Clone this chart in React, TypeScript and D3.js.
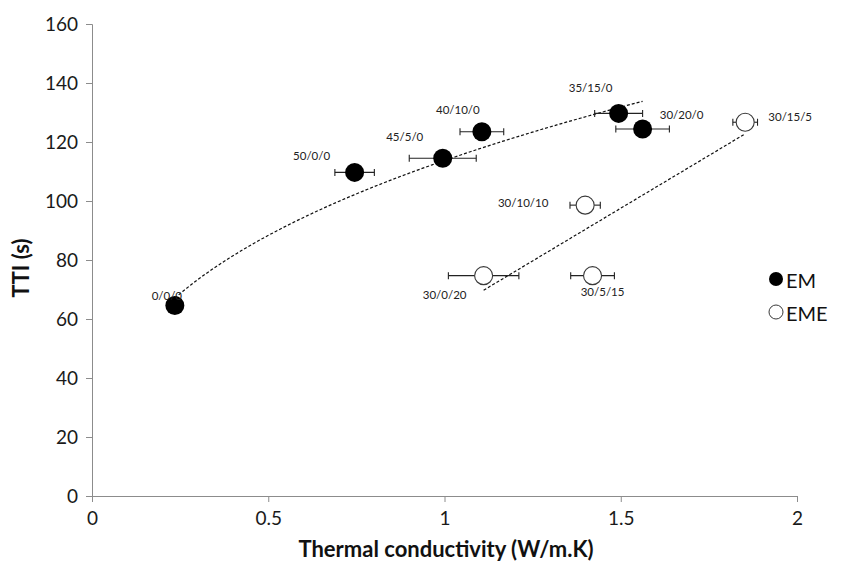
import React, { useEffect, useRef } from "react";
import * as d3 from "d3";

// ---- data ----
const emLabels = ["0/0/0", "50/0/0", "45/5/0", "40/10/0", "35/15/0", "30/20/0"];
const emX = [0.235, 0.745, 0.995, 1.106, 1.494, 1.562];
const emY = [64.6, 109.7, 114.5, 123.5, 129.7, 124.4];
const emXErr = [0, 0.056, 0.095, 0.062, 0.068, 0.076];

const emeLabels = ["30/10/10", "30/0/20", "30/5/15", "30/15/5"];
const emeX = [1.399, 1.111, 1.42, 1.853];
const emeY = [98.6, 74.7, 74.7, 126.7];
const emeXErr = [0.043, 0.1, 0.062, 0.035];

const xTicks = [0, 0.5, 1, 1.5, 2];
const yTicks = [0, 20, 40, 60, 80, 100, 120, 140, 160];

// label placement offsets (px) relative to marker centre
const emLabelOffsets: [number, number][] = [
  [-8, -10], [-43, -17], [-38, -22], [-24, -22], [-28, -26], [39, -15],
];
const emeLabelOffsets: [number, number][] = [
  [-62, -3], [-39, 19], [10, 16], [45, -6],
];

const W = 859;
const H = 564;
const FONT = "Lato, 'Open Sans', sans-serif";

function powerFit(xs: number[], ys: number[]) {
  const lx = xs.map(Math.log);
  const ly = ys.map(Math.log);
  const mx = d3.mean(lx)!;
  const my = d3.mean(ly)!;
  let sxy = 0, sxx = 0;
  lx.forEach((v, i) => { sxy += (v - mx) * (ly[i] - my); sxx += (v - mx) ** 2; });
  const b = sxy / sxx;
  const a = Math.exp(my - b * mx);
  return (x: number) => a * Math.pow(x, b);
}

function linearFit(xs: number[], ys: number[]) {
  const mx = d3.mean(xs)!;
  const my = d3.mean(ys)!;
  let sxy = 0, sxx = 0;
  xs.forEach((v, i) => { sxy += (v - mx) * (ys[i] - my); sxx += (v - mx) ** 2; });
  const m = sxy / sxx;
  const c = my - m * mx;
  return (x: number) => m * x + c;
}

export default function App() {
  const gx = useRef<SVGGElement>(null);
  const gy = useRef<SVGGElement>(null);

  const x = d3.scaleLinear().domain([0, 2]).range([92, 797]);
  const y = d3.scaleLinear().domain([0, 160]).range([496, 24]);

  useEffect(() => {
    const ax = d3.axisBottom(x).tickValues(xTicks).tickSize(6).tickPadding(10)
      .tickFormat((d) => d3.format("")(d as number));
    const ay = d3.axisLeft(y).tickValues(yTicks).tickSize(6).tickPadding(8);
    const sx = d3.select(gx.current!).call(ax);
    const sy = d3.select(gy.current!).call(ay);
    [sx, sy].forEach((s) => {
      s.select(".domain").attr("stroke", "#8c8c8c").attr("stroke-width", 1);
      s.selectAll(".tick line").attr("stroke", "#8c8c8c");
      s.selectAll(".tick text").attr("fill", "#1a1a1a")
        .style("font-family", FONT).style("font-size", "19px");
    });
  }, []);

  const emFit = powerFit(emX, emY);
  const emeFit = linearFit(emeX, emeY);
  const [emMin, emMax] = d3.extent(emX) as [number, number];
  const [emeMin, emeMax] = d3.extent(emeX) as [number, number];
  const emPts = d3.range(0, 61).map((i) => emMin + (emMax - emMin) * (i / 60));
  const line = d3.line<number>().x((d) => x(d));
  const emPath = line.y((d) => y(emFit(d)))(emPts)!;
  const emePath = d3.line<number>().x((d) => x(d)).y((d) => y(emeFit(d)))([emeMin, emeMax])!;

  const errBar = (cx: number, cy: number, e: number, key: string) => {
    if (!e) return null;
    const x1 = x(cx - e), x2 = x(cx + e), yy = y(cy);
    return (
      <g key={key} stroke="#222" strokeWidth={1.1}>
        <line x1={x1} x2={x2} y1={yy} y2={yy} />
        <line x1={x1} x2={x1} y1={yy - 3.5} y2={yy + 3.5} />
        <line x1={x2} x2={x2} y1={yy - 3.5} y2={yy + 3.5} />
      </g>
    );
  };

  return (
    <svg width={W} height={H} style={{ position: "absolute", left: 0, top: 0, background: "#fff" }}
      fontFamily={FONT}>
      <rect width={W} height={H} fill="#fff" />
      <g ref={gx} transform={`translate(0,${y(0)})`} />
      <g ref={gy} transform={`translate(${x(0)},0)`} />

      {/* trend lines */}
      <path d={emPath} fill="none" stroke="#111" strokeWidth={1.2} strokeDasharray="3,2" />
      <path d={emePath} fill="none" stroke="#111" strokeWidth={1.2} strokeDasharray="3,2" />

      {/* error bars */}
      {emX.map((v, i) => errBar(v, emY[i], emXErr[i], "eme" + i))}
      {emeX.map((v, i) => errBar(v, emeY[i], emeXErr[i], "emee" + i))}

      {/* markers */}
      {emX.map((v, i) => (
        <circle key={"em" + i} cx={x(v)} cy={y(emY[i])} r={9.5} fill="#000" />
      ))}
      {emeX.map((v, i) => (
        <circle key={"eme" + i} cx={x(v)} cy={y(emeY[i])} r={9} fill="#fff" stroke="#3a3a3a" strokeWidth={1.1} />
      ))}

      {/* data labels */}
      {emLabels.map((t, i) => (
        <text key={"eml" + i} x={x(emX[i]) + emLabelOffsets[i][0]} y={y(emY[i]) + emLabelOffsets[i][1]}
          textAnchor="middle" dominantBaseline="central" fontSize={11.5} fill="#222">{t}</text>
      ))}
      {emeLabels.map((t, i) => (
        <text key={"emel" + i} x={x(emeX[i]) + emeLabelOffsets[i][0]} y={y(emeY[i]) + emeLabelOffsets[i][1]}
          textAnchor="middle" dominantBaseline="central" fontSize={11.5} fill="#222">{t}</text>
      ))}

      {/* legend */}
      <circle cx={776} cy={279} r={7} fill="#000" />
      <text x={786} y={280} dominantBaseline="central" fontSize={20} fill="#111">EM</text>
      <circle cx={776} cy={312} r={7} fill="#fff" stroke="#3a3a3a" strokeWidth={1} />
      <text x={786} y={313} dominantBaseline="central" fontSize={20} fill="#111">EME</text>

      {/* axis titles */}
      <text x={446} y={557} textAnchor="middle" fontSize={22} fontWeight="bold" fill="#111">
        Thermal conductivity (W/m.K)
      </text>
      <text transform={`translate(29,268) rotate(-90)`} textAnchor="middle" fontSize={22} fontWeight="bold" fill="#111">
        TTI (s)
      </text>
    </svg>
  );
}
